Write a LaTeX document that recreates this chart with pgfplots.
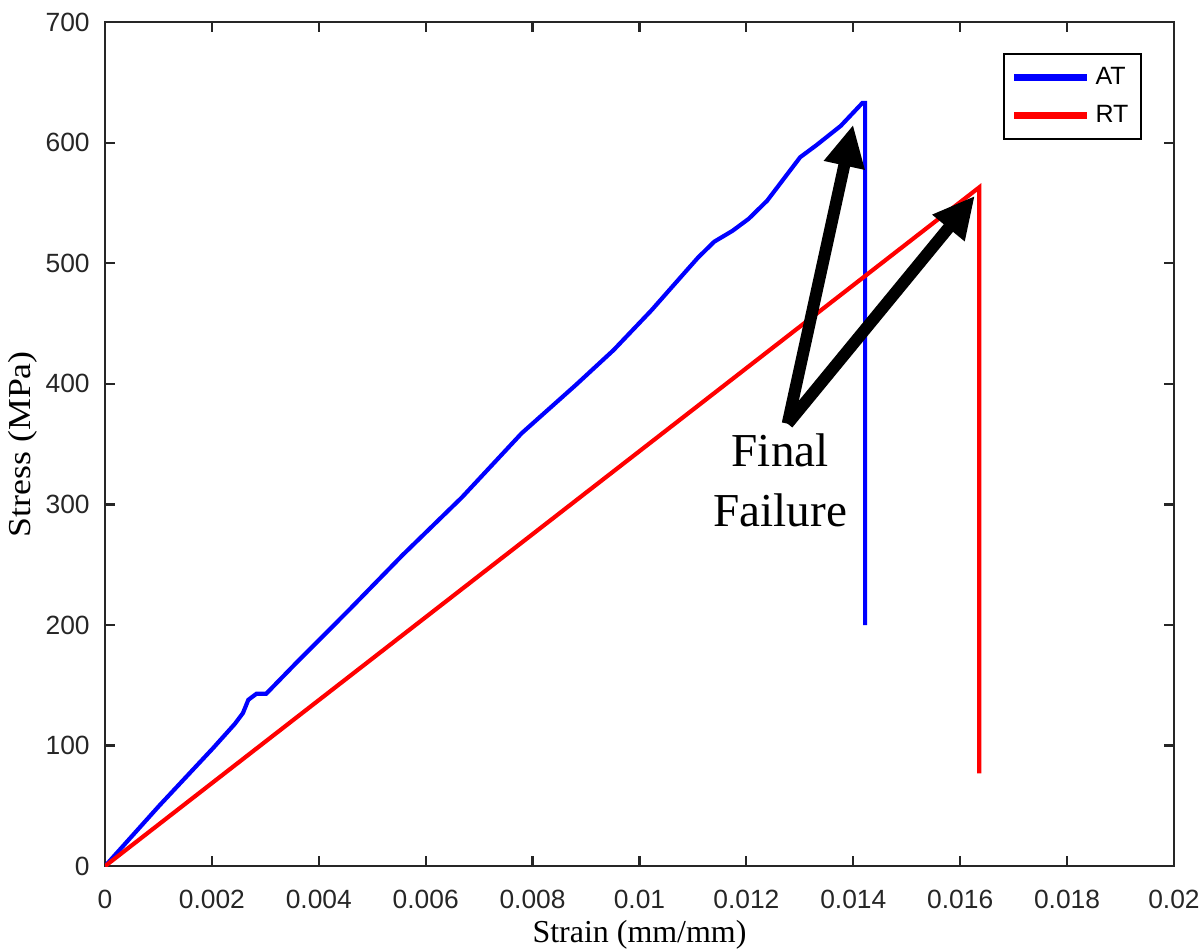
\documentclass[border=0pt]{standalone}
\usepackage{fontspec}
\setmainfont{Liberation Serif}
\newfontfamily\arial{Liberation Sans}
\usepackage{pgfplots}
\pgfplotsset{compat=1.18}
\usetikzlibrary{arrows.meta}
\definecolor{axgray}{RGB}{38,38,38}

\begin{document}
\begin{tikzpicture}
\begin{axis}[
  scale only axis,
  width=384.8pt, height=303.8pt,
  xmin=0, xmax=0.02, ymin=0, ymax=700,
  xtick={0,0.002,...,0.0201}, ytick={0,100,...,700},
  scaled x ticks=false,
  /pgf/number format/.cd, fixed, precision=3, assume math mode=true, /pgfplots/.cd,
  tick align=inside, major tick length=3.6pt,
  axis line style={axgray, line width=0.8pt},
  every tick/.style={axgray, line width=0.8pt},
  ticklabel style={font=\arial\fontsize{9.5}{11}\selectfont, text=axgray},
  xticklabel style={yshift=-5pt},
  yticklabel style={xshift=-2pt},
  xlabel={Strain (mm/mm)},
  ylabel={\scalebox{1.12}[1]{Stress (MPa)}},
  label style={font=\fontsize{11.5}{13}\selectfont},
  xlabel style={at={(axis description cs:0.5,0)}, anchor=center, yshift=-24.6pt},
  ylabel style={at={(axis description cs:0,0.5)}, anchor=center, yshift=29.5pt},
  legend style={at={(rel axis cs:0.970,0.963)}, anchor=north east, draw=black, line width=0.7pt,
    font=\arial\fontsize{9}{10.5}\selectfont, inner sep=2.5pt, row sep=2pt},
  legend cell align=left,
  legend image code/.code={\draw[#1, line width=2.5pt] (0pt,0pt) -- (26pt,0pt);},
]
% AT (blue) and RT (red) stress-strain curves
\addplot[blue, line width=1.5pt] coordinates {
  (0,0) (0.000506,25) (0.001012,50) (0.001518,74) (0.002024,98) (0.002429,118) (0.002581,127)
  (0.002682,138) (0.002834,143) (0.003016,143) (0.003543,167) (0.004555,212) (0.005567,258)
  (0.00668,306) (0.007794,359) (0.008806,399) (0.009514,428) (0.010223,461) (0.01078,489)
  (0.011100,505) (0.011400,518) (0.011741,527) (0.012045,537) (0.012389,552) (0.013006,588) (0.01331,598)
  (0.013765,614) (0.01417,633) (0.014221,633) (0.014221,200)
};
\addplot[red, line width=1.5pt] coordinates {
  (0,0) (0.016356,563) (0.016356,77)
};
\legend{AT, RT}
\draw[line width=4.3pt, -{Triangle[length=15pt, width=14pt]}] (axis cs:0.012773,367) -- (axis cs:0.013998,615);
\draw[line width=4.3pt, -{Triangle[length=15pt, width=14pt]}] (axis cs:0.012773,367) -- (axis cs:0.016275,556);
\node[anchor=north, align=center, inner sep=0pt, font=\fontsize{17}{21.6}\selectfont] at (axis cs:0.012632,359) {Final\\Failure};
\end{axis}
\pgfresetboundingbox
\path[use as bounding box] (-37.8pt,-30.6pt) rectangle (394.9pt,311.8pt);
\end{tikzpicture}
\end{document}
